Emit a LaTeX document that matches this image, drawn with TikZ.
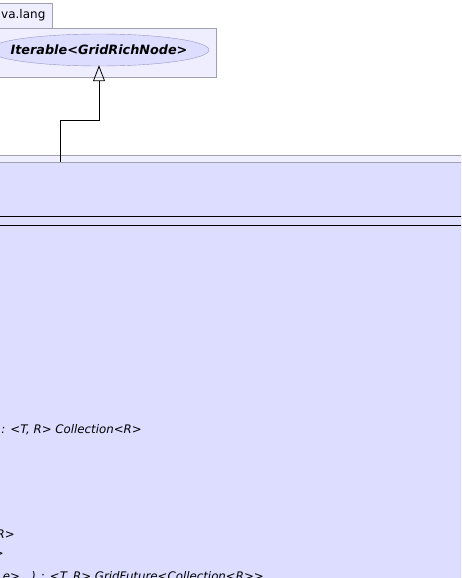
\documentclass[tikz,border=0pt]{standalone}
\usepackage{fontspec}
\setmainfont{DejaVu Sans}
\usetikzlibrary{shapes.geometric,arrows.meta,positioning}
\definecolor{pkgfill}{RGB}{238,238,255}
\definecolor{clsfill}{RGB}{221,221,255}
\definecolor{pkgline}{RGB}{160,160,176}
\definecolor{ellline}{RGB}{150,150,200}

\begin{document}
\begin{tikzpicture}[
    x=1pt, y=-1pt,
    pkg/.style={rectangle, draw=pkgline, fill=pkgfill, line width=0.8pt},
    iface/.style={ellipse, draw=ellline, fill=clsfill, minimum width=220pt, minimum height=32pt, inner xsep=-12pt, inner ysep=0pt, font=\fontsize{12.8}{15}\selectfont\bfseries\itshape},
    member/.style={anchor=east, inner sep=0pt, font=\fontsize{11.8}{14}\selectfont\itshape},
    realize/.style={-{Triangle[open,length=16pt,width=12pt]}, line width=0.8pt, shorten >=-1pt},
]
\useasboundingbox (0,0) rectangle (461,578);
\clip (0,0) rectangle (461,578);

% java.lang package
\draw[pkg] (-10,3) rectangle (52,28);
\node[anchor=west, inner sep=0pt, font=\fontsize{12}{14}\selectfont] (langname) at (1,15) {va.lang};
\draw[pkg] (-10,28) rectangle (216,77);
\node[iface] (iterable) at (99,50) {Iterable<GridRichNode>};

% lower package and class
\draw[pkg] (-10,155) rectangle (470,600);
\node[rectangle, draw=pkgline, fill=clsfill, line width=0.8pt, minimum width=480pt, minimum height=440pt, anchor=north west, inner sep=0pt] (projection) at (-10,162) {};
\draw[line width=0.8pt] (projection.west |- 0,216) -- (projection.east |- 0,216);
\draw[line width=0.8pt] (projection.west |- 0,225) -- (projection.east |- 0,225);

% methods
\node[member] (mcollect) at (142,430) {: <T, R> Collection<R>};
\node[member] (mreduce) at (15,534) {R>};
\node[member] (mnext) at (4,554) {>};
\node[member] (mfuture) at (264,577) {e>...) : <T, R> GridFuture<Collection<R>{}>};

% realization
\coordinate (src) at (60,162);
\draw[realize] (src) |- (99,120) -- (iterable.south);

\end{tikzpicture}
\end{document}
